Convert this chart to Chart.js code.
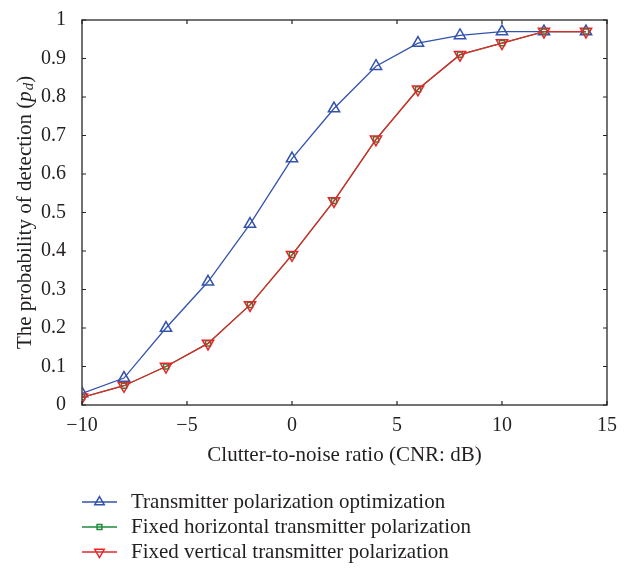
<!DOCTYPE html>
<html>
<head>
<meta charset="utf-8">
<script src="https://cdn.jsdelivr.net/npm/chart.js@4/dist/chart.umd.min.js"></script>
<style>
  html, body { margin: 0; padding: 0; background: #fff; }
  #wrap { width: 638px; height: 571px; position: relative; }
</style>
</head>
<body>
<div id="wrap"><canvas id="chart"></canvas></div>
<script>
// data
const cnr = [-10, -8, -6, -4, -2, 0, 2, 4, 6, 8, 10, 12, 14];
const pdOptimized = [0.03, 0.07, 0.20, 0.32, 0.47, 0.64, 0.77, 0.88, 0.94, 0.96, 0.97, 0.97, 0.97];
const pdHorizontal = [0.02, 0.05, 0.10, 0.16, 0.26, 0.39, 0.53, 0.69, 0.82, 0.91, 0.94, 0.97, 0.97];
const pdVertical = [0.02, 0.05, 0.10, 0.16, 0.26, 0.39, 0.53, 0.69, 0.82, 0.91, 0.94, 0.97, 0.97];
const seriesNames = [
  'Transmitter polarization optimization',
  'Fixed horizontal transmitter polarization',
  'Fixed vertical transmitter polarization'
];
const xTicks = [-10, -5, 0, 5, 10, 15];

const FONT = '"Liberation Serif", "Times New Roman", serif';
const TEXT = '#231f20';
const AXIS = '#444';
const BLUE = '#3352ad', GREEN = '#1f8a3c', RED = '#e3272b';

const pts = (ys) => cnr.map((x, i) => ({ x, y: ys[i] }));

const legendItems = [
  { label: seriesNames[0], color: BLUE, style: 'triangle', rot: 0, r: 5.5 },
  { label: seriesNames[1], color: GREEN, style: 'rect', rot: 0, r: 3.4 },
  { label: seriesNames[2], color: RED, style: 'triangle', rot: 180, r: 5.5 }
];

// box + inward ticks, y title with subscript, legend
const decor = {
  id: 'decor',
  afterDatasetsDraw(chart) {
    const { ctx, chartArea: a, scales } = chart;
    ctx.save();
    ctx.strokeStyle = AXIS;
    ctx.lineWidth = 1.5;
    ctx.strokeRect(a.left, a.top, a.right - a.left, a.bottom - a.top);
    ctx.lineWidth = 1.2;
    ctx.strokeStyle = '#222';
    const tl = 4;
    ctx.beginPath();
    xTicks.forEach(v => {
      const px = scales.x.getPixelForValue(v);
      ctx.moveTo(px, a.bottom); ctx.lineTo(px, a.bottom - tl);
      ctx.moveTo(px, a.top); ctx.lineTo(px, a.top + tl);
    });
    scales.y.ticks.forEach(t => {
      const py = scales.y.getPixelForValue(t.value);
      ctx.moveTo(a.left, py); ctx.lineTo(a.left + tl, py);
      ctx.moveTo(a.right, py); ctx.lineTo(a.right - tl, py);
    });
    ctx.stroke();
    ctx.restore();
  },
  afterDraw(chart) {
    const { ctx, chartArea: a } = chart;
    ctx.save();
    // y axis title
    const size = 21;
    const parts = [
      { t: 'The probability of detection (', f: `${size}px ${FONT}`, dy: 0 },
      { t: 'p', f: `italic ${size}px ${FONT}`, dy: 0 },
      { t: 'd', f: `italic ${Math.round(size * 0.72)}px ${FONT}`, dy: 4 },
      { t: ')', f: `${size}px ${FONT}`, dy: 0 }
    ];
    let total = 0;
    parts.forEach(p => { ctx.font = p.f; p.w = ctx.measureText(p.t).width; total += p.w + (p.t === 'p' ? 1 : 0); });
    ctx.translate(25, (a.top + a.bottom) / 2);
    ctx.rotate(-Math.PI / 2);
    ctx.fillStyle = TEXT;
    ctx.textBaseline = 'middle';
    let x = -total / 2;
    parts.forEach(p => {
      ctx.font = p.f;
      ctx.fillText(p.t, x, p.dy);
      x += p.w + (p.t === 'p' ? 1 : 0);
    });
    ctx.restore();

    // legend
    ctx.save();
    const y0 = 502, dy = 25;
    legendItems.forEach((it, i) => {
      const y = y0 + i * dy;
      ctx.strokeStyle = it.color;
      ctx.lineWidth = 1.3;
      ctx.beginPath(); ctx.moveTo(82, y); ctx.lineTo(117, y); ctx.stroke();
      ctx.fillStyle = 'rgba(0,0,0,0)';
      ctx.lineWidth = 1.5;
      Chart.helpers.drawPoint(ctx, { pointStyle: it.style, rotation: it.rot, radius: it.r, borderWidth: 1.5 }, 99.5, y);
      ctx.fillStyle = TEXT;
      ctx.font = `21px ${FONT}`;
      ctx.textBaseline = 'middle';
      ctx.fillText(it.label, 131, y);
    });
    ctx.restore();
  }
};

const line = (label, data, color, style, rot, r, order) => ({
  label, data: pts(data), borderColor: color, backgroundColor: 'rgba(0,0,0,0)',
  pointBorderColor: color, pointBackgroundColor: 'rgba(0,0,0,0)',
  borderWidth: 1.3, pointStyle: style, rotation: rot, pointRadius: r,
  pointBorderWidth: 1.5, tension: 0, order
});

new Chart(document.getElementById('chart'), {
  type: 'line',
  data: {
    datasets: [
      line(seriesNames[0], pdOptimized, BLUE, 'triangle', 0, 6.5, 2),
      line(seriesNames[1], pdHorizontal, GREEN, 'rect', 0, 3.6, 1),
      line(seriesNames[2], pdVertical, RED, 'triangle', 180, 6.5, 0)
    ]
  },
  options: {
    responsive: true,
    maintainAspectRatio: false,
    animation: false,
    layout: { padding: { left: 0, right: 31, top: 8, bottom: 100 } },
    plugins: { legend: { display: false }, tooltip: { enabled: false } },
    scales: {
      x: {
        type: 'linear', min: -10, max: 15,
        afterBuildTicks: (s) => { s.ticks = xTicks.map(v => ({ value: v })); },
        afterFit: (s) => { s.height = 66; },
        grid: { display: false },
        border: { display: false },
        ticks: { color: TEXT, font: { family: FONT, size: 20 }, padding: 1, maxRotation: 0,
          callback: (v) => v < 0 ? '\u2212' + Math.abs(v) : String(v) },
        title: { display: true, text: 'Clutter-to-noise ratio (CNR: dB)', color: TEXT,
          font: { family: FONT, size: 21 }, padding: { top: 4, bottom: 3 } }
      },
      y: {
        min: 0, max: 1,
        ticks: { stepSize: 0.1, color: TEXT, font: { family: FONT, size: 20 }, padding: 8,
          callback: (v) => String(parseFloat(v.toFixed(1))) },
        afterFit: (s) => { s.width = 82; },
        grid: { display: false },
        border: { display: false }
      }
    }
  },
  plugins: [decor]
});
</script>
</body>
</html>
